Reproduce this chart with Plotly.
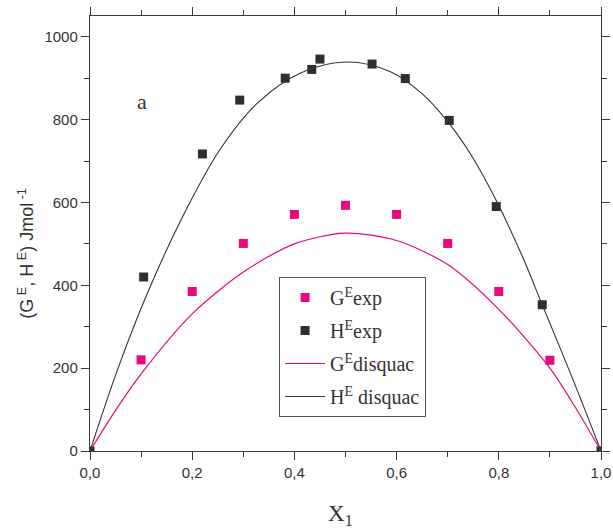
import plotly.graph_objects as go

# Experimental excess Gibbs energy G^E (J/mol) vs mole fraction x1
ge_exp_x = [0.1, 0.2, 0.3, 0.4, 0.5, 0.6, 0.7, 0.8, 0.9]
ge_exp_y = [220, 385, 501, 571, 593, 571, 501, 385, 219]

# Experimental excess enthalpy H^E (J/mol)
he_exp_x = [0.0, 0.105, 0.220, 0.293, 0.382, 0.434, 0.450, 0.552, 0.617, 0.703, 0.795, 0.885, 1.0]
he_exp_y = [0, 420, 717, 847, 900, 921, 946, 934, 899, 798, 590, 353, 0]

# DISQUAC model curves
ge_calc_x = [0.0, 0.05, 0.1, 0.2, 0.3, 0.4, 0.5, 0.6, 0.7, 0.8, 0.9, 0.95, 1.0]
ge_calc_y = [0, 98, 186, 331, 432, 500, 526, 508, 450, 342, 200, 105, 0]

he_calc_x = [0.0, 0.055, 0.111, 0.179, 0.254, 0.326, 0.411, 0.502, 0.587, 0.652,
             0.705, 0.750, 0.796, 0.846, 0.885, 0.944, 1.0]
he_calc_y = [0, 200, 377, 560, 727, 838, 912, 939, 916, 860,
             787, 706, 602, 470, 353, 176, 0]

x_tickvals = [0.0, 0.2, 0.4, 0.6, 0.8, 1.0]
x_ticktext = ["0,0", "0,2", "0,4", "0,6", "0,8", "1,0"]
y_tickvals = [0, 200, 400, 600, 800, 1000]

PINK = "#E8087F"
DARK = "#2E2E33"
AXIS = "#3A3A3A"
TEXT = "#333333"
SERIF = "Liberation Serif, Times New Roman"
SANS = "Liberation Sans, Arial"

fig = go.Figure()
fig.add_trace(go.Scatter(x=ge_exp_x, y=ge_exp_y, mode="markers", name="G<sup>E</sup>exp",
                         legendgroup="g1", marker=dict(symbol="square", size=9, color=PINK)))
fig.add_trace(go.Scatter(x=he_exp_x, y=he_exp_y, mode="markers", name="H<sup>E</sup>exp",
                         legendgroup="g2", marker=dict(symbol="square", size=9, color=DARK)))
fig.add_trace(go.Scatter(x=ge_calc_x, y=ge_calc_y, mode="lines", name="G<sup>E</sup>disquac",
                         legendgroup="g3",
                         line=dict(color=PINK, width=1.2, shape="spline", smoothing=0.8)))
fig.add_trace(go.Scatter(x=he_calc_x, y=he_calc_y, mode="lines", name="H<sup>E</sup> disquac",
                         legendgroup="g4",
                         line=dict(color=TEXT, width=1.1, shape="spline", smoothing=1.0)))

axis_common = dict(
    showline=True, linecolor=AXIS, linewidth=1.4, mirror="ticks",
    ticks="outside", ticklen=8, tickwidth=1.3, tickcolor=AXIS,
    showgrid=False, zeroline=False, automargin=False,
    tickfont=dict(family=SANS, size=15, color=TEXT),
)

fig.update_xaxes(
    range=[0, 1], tickvals=x_tickvals, ticktext=x_ticktext,
    minor=dict(dtick=0.1, ticklen=5, tickwidth=1.3, tickcolor=AXIS, ticks="outside"),
    **axis_common,
)
fig.update_yaxes(
    range=[0, 1050], tickvals=y_tickvals,
    minor=dict(dtick=100, ticklen=5, tickwidth=1.3, tickcolor=AXIS, ticks="outside"),
    **axis_common,
)

# axis titles
fig.add_annotation(x=-0.126, y=0.455, xref="paper", yref="paper",
                   text="(G<sup> E</sup>, H<sup> E</sup>) Jmol<sup> -1</sup>", textangle=-90,
                   showarrow=False, xanchor="center", yanchor="middle",
                   font=dict(family=SANS, size=18, color=TEXT))
fig.add_annotation(x=0.491, y=-0.147, xref="paper", yref="paper",
                   text="X<sub>1</sub>", showarrow=False, xanchor="center", yanchor="middle",
                   font=dict(family=SERIF, size=23, color=TEXT))

# panel label
fig.add_annotation(x=0.102, y=844, xref="x", yref="y", text="a", showarrow=False,
                   font=dict(family=SERIF, size=22, color=TEXT))

fig.update_layout(
    width=613, height=532,
    margin=dict(l=90, r=12, t=16, b=81),
    plot_bgcolor="white", paper_bgcolor="white",
    legend=dict(x=0.37, y=0.40, xanchor="left", yanchor="top",
                bordercolor="#555555", borderwidth=1, bgcolor="white",
                itemwidth=40, tracegroupgap=4,
                font=dict(family=SERIF, size=20, color=TEXT)),
    showlegend=True,
)

fig.write_html("out.html", post_script="document.body.style.margin='0';")
